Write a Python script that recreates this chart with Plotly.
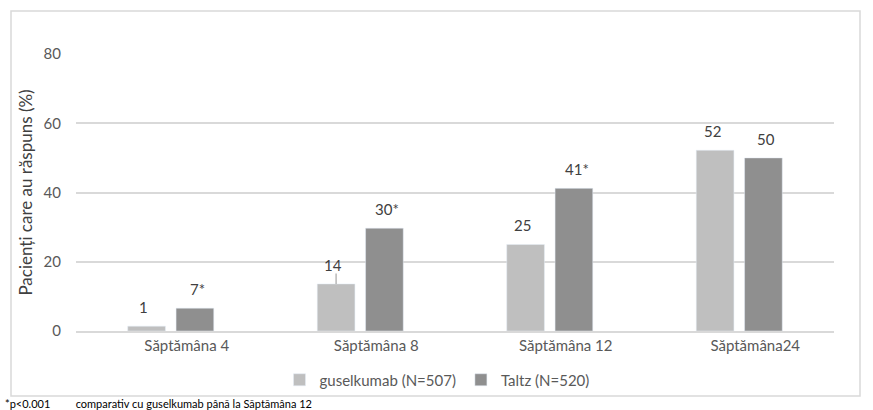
import plotly.graph_objects as go

categories = ["Săptămâna 4", "Săptămâna 8", "Săptămâna 12", "Săptămâna24"]
gus_values = [1.4, 13.6, 25.0, 52.2]
taltz_values = [6.6, 29.7, 41.2, 50.0]
gus_labels = ["1", "14", "25", "52"]
taltz_labels = ["7*", "30*", "41*", "50"]
gus_err_up = [0, 3, 0, 0]
y_ticks = [0, 20, 40, 60, 80]

FONT = "Lato"
TXT = "#595959"
GRID = "#D9D9D9"
C_GUS = "#BFBFBF"
C_TALTZ = "#8F8F8F"

fig = go.Figure()
fig.add_trace(go.Bar(
    name="guselkumab (N=507)", x=categories, y=gus_values, marker_color=C_GUS,
    error_y=dict(type="data", symmetric=False, array=gus_err_up,
                 arrayminus=[0] * len(gus_err_up), color="#A6A6A6",
                 thickness=1.2, width=0),
))
fig.add_trace(go.Bar(
    name="Taltz (N=520)", x=categories, y=taltz_values, marker_color=C_TALTZ,
))

annos = []
for c, v, t in zip(categories, gus_values, gus_labels):
    annos.append(dict(x=c, y=v, text=t, showarrow=False, xref="x", yref="y",
                      xshift=-27, yshift=19, yanchor="middle",
                      font=dict(family=FONT, size=15, color="#404040")))
for c, v, t in zip(categories, taltz_values, taltz_labels):
    annos.append(dict(x=c, y=v, text=t, showarrow=False, xref="x", yref="y",
                      xshift=27, yshift=19, yanchor="middle",
                      font=dict(family=FONT, size=15, color="#404040")))

W, H = 873, 410
ml, mr, mt, mb = 76, 39, 54, 79
pw, ph = W - ml - mr, H - mt - mb

def px_x(p):
    return (p - ml) / pw

def px_y(p):
    return (H - mb - p) / ph

annos.append(dict(
    x=px_x(3), y=px_y(403), xref="paper", yref="paper", xanchor="left", yanchor="middle",
    text="*p<0.001         comparativ cu guselkumab până la Săptămâna 12",
    showarrow=False, font=dict(family=FONT, size=11, color="#000000")))

fig.update_layout(
    width=W, height=H,
    margin=dict(l=ml, r=mr, t=mt, b=mb),
    paper_bgcolor="white", plot_bgcolor="white",
    barmode="group", bargap=0.49, bargroupgap=0.22,
    font=dict(family=FONT, size=15, color=TXT),
    showlegend=True,
    legend=dict(orientation="h", x=px_x(437), xanchor="center", y=px_y(380), yanchor="middle",
                font=dict(family=FONT, size=15, color=TXT), itemwidth=30,
                traceorder="normal", bgcolor="rgba(0,0,0,0)"),
    annotations=annos,
    shapes=[dict(type="rect", xref="paper", yref="paper",
                 x0=px_x(11), x1=px_x(860), y0=px_y(396), y1=px_y(11),
                 line=dict(color="#D9D9D9", width=1.5), fillcolor="rgba(0,0,0,0)", layer="below")],
    yaxis=dict(range=[0, 80], tickvals=y_ticks, showgrid=True, gridcolor=GRID, gridwidth=1.5,
               zeroline=False, showline=False, ticks="", ticklabelstandoff=14,
               tickfont=dict(family=FONT, size=15, color=TXT),
               title=dict(text="Pacienți care au răspuns (%)", standoff=6,
                          font=dict(family=FONT, size=17, color="#404040"))),
    xaxis=dict(showline=True, linecolor=GRID, linewidth=1.5, ticks="",
               tickfont=dict(family=FONT, size=15, color=TXT), ticklabelshift=16),
)

fig.write_html("out.html")
